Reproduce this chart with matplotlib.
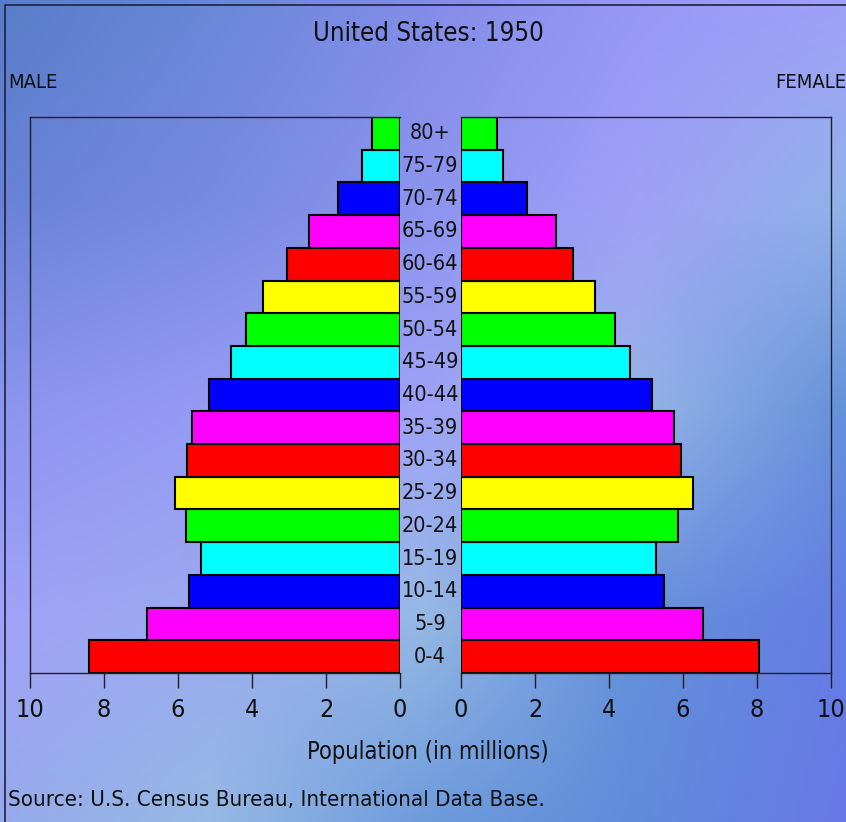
import numpy as np
import matplotlib
matplotlib.use('Agg')
import matplotlib.pyplot as plt

# Data (millions)
ages = ['0-4', '5-9', '10-14', '15-19', '20-24', '25-29', '30-34', '35-39',
        '40-44', '45-49', '50-54', '55-59', '60-64', '65-69', '70-74', '75-79', '80+']
male = [8.41, 6.84, 5.70, 5.38, 5.78, 6.08, 5.76, 5.62,
        5.16, 4.57, 4.16, 3.70, 3.05, 2.46, 1.68, 1.03, 0.76]
female = [8.05, 6.54, 5.49, 5.27, 5.86, 6.27, 5.95, 5.76,
          5.16, 4.57, 4.16, 3.62, 3.03, 2.57, 1.78, 1.14, 0.97]
palette = ['#ff0000', '#ff00ff', '#0000ff', '#00ffff', '#00ff00', '#ffff00']
xticks = [0, 2, 4, 6, 8, 10]

W, H = 846, 822
fig = plt.figure(figsize=(W / 100, H / 100), dpi=100)

# background: 5x5 grid of sampled colours, smoothly interpolated
grid = np.array([
    [(88, 125, 200), (105, 135, 215), (130, 140, 232), (150, 152, 245), (160, 160, 250)],
    [(105, 130, 215), (120, 138, 225), (140, 148, 238), (160, 160, 248), (145, 178, 232)],
    [(140, 148, 238), (150, 155, 245), (160, 162, 248), (150, 180, 230), (100, 145, 218)],
    [(160, 162, 248), (155, 170, 240), (150, 185, 228), (100, 145, 218), (100, 125, 228)],
    [(150, 170, 235), (150, 185, 228), (110, 155, 220), (95, 140, 218), (105, 120, 232)],
]) / 255
bg = fig.add_axes([0, 0, 1, 1])
bg.imshow(grid, interpolation='bilinear', aspect='auto',
          extent=[-0.125, 1.125, 1.125, -0.125])
bg.set_xlim(0, 1)
bg.set_ylim(1, 0)
bg.axis('off')
bg.plot([5 / W, 5 / W, 1.01], [1.01, 5 / H, 5 / H], color='#202040', lw=1.2)

txt = dict(family='DejaVu Sans', fontstretch='condensed', color='#101010')
colors = [palette[i % 6] for i in range(len(ages))]
y = np.arange(len(ages))

ax_l = fig.add_axes([30 / W, 1 - 673 / H, 370 / W, 556 / H])
ax_r = fig.add_axes([461 / W, 1 - 673 / H, 370 / W, 556 / H])

ax_l.barh(y, male, height=1.0, color=colors, edgecolor='black', linewidth=1.5)
ax_r.barh(y, female, height=1.0, color=colors, edgecolor='black', linewidth=1.5)

for ax in (ax_l, ax_r):
    ax.patch.set_alpha(0)
    ax.set_ylim(-0.5, len(ages) - 0.5)
    ax.set_yticks([])
    ax.set_xticks(xticks)
    ax.set_xticklabels([str(v) for v in xticks], fontsize=18, **txt)
    ax.tick_params(axis='x', direction='out', length=11, width=1, color='#202020', pad=7)
    for s in ax.spines.values():
        s.set_color('#202020')
        s.set_linewidth(1)

ax_l.set_xlim(10, 0)
ax_r.set_xlim(0, 10)
ax_l.spines['right'].set_visible(False)
ax_r.spines['left'].set_visible(False)

for i, a in enumerate(ages):
    fig.text(430 / W, 1 - (673 - (i + 0.5) * 556 / 17) / H, a, ha='center', va='center',
             fontsize=15.5, **txt)

fig.text(428 / W, 1 - 34 / H, 'United States: 1950', ha='center', va='center',
         fontsize=18.5, **txt)
fig.text(8 / W, 1 - 82 / H, 'MALE', ha='left', va='center', fontsize=14.5, **txt)
fig.text(1.0, 1 - 82 / H, 'FEMALE', ha='right', va='center', fontsize=14.5, **txt)
fig.text(428 / W, 1 - 752 / H, 'Population (in millions)', ha='center', va='center',
         fontsize=17, **txt)
fig.text(8 / W, 1 - 800 / H, 'Source: U.S. Census Bureau, International Data Base.',
         ha='left', va='center', fontsize=16, **txt)

fig.savefig('out.png', dpi=100)
